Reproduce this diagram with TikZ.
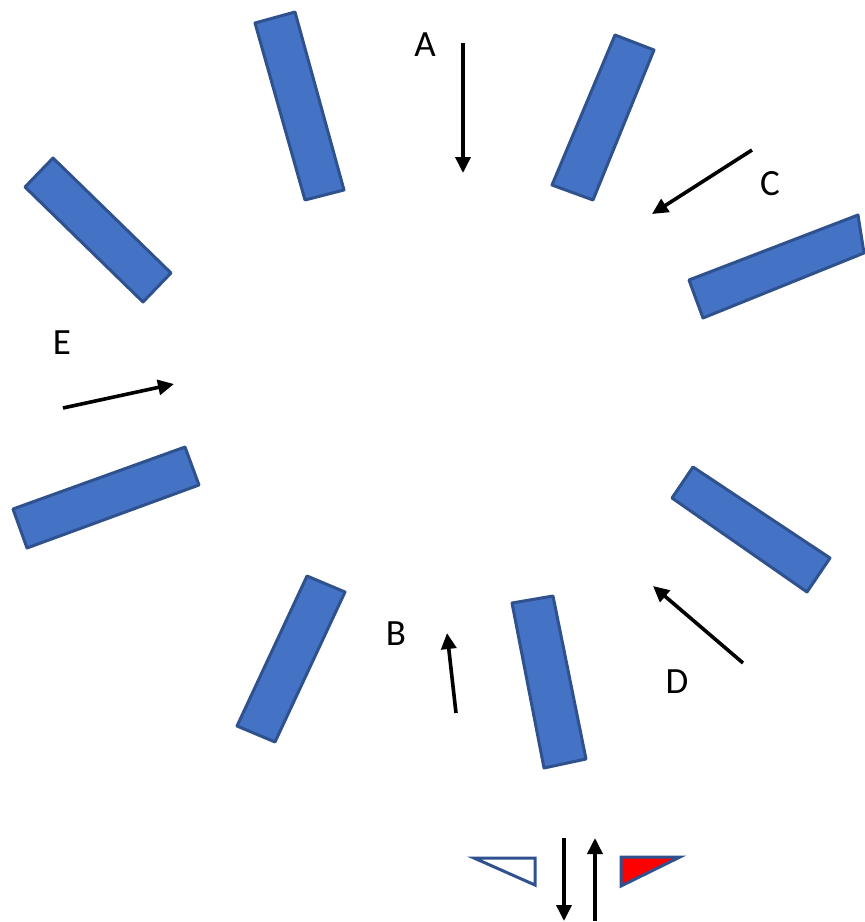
\documentclass[tikz,border=0pt]{standalone}
\usepackage{fontspec}
\setmainfont{Carlito}
\usetikzlibrary{arrows.meta}
\definecolor{barfill}{HTML}{4472C4}
\definecolor{barline}{HTML}{2F528F}
\tikzset{
  bar/.style={fill=barfill, draw=barline, line width=3pt, line join=round},
  arr/.style={line width=3.6pt, -{Triangle[length=16pt,width=15pt]}},
  lbl/.style={font=\fontsize{37}{40}\selectfont, inner sep=0pt},
  tri/.style={draw=barline, line width=3pt, line join=miter}
}
\begin{document}
\begin{tikzpicture}[x=1pt,y=-1pt]
\useasboundingbox (0,0) rectangle (865,922);
% bars
\draw[bar] (255,23) -- (295,12) -- (344,190) -- (305,200) -- cycle;
\draw[bar] (25,187) -- (53,158) -- (171,273) -- (143,302) -- cycle;
\draw[bar] (615,35) -- (654,50) -- (593,200) -- (552,185) -- cycle;
\draw[bar] (689,280) -- (858,215) -- (864,253) -- (703,318) -- cycle;
\draw[bar] (13,509) -- (185,447) -- (199,485) -- (27,548) -- cycle;
\draw[bar] (307,576) -- (345,592) -- (275,742) -- (237,726) -- cycle;
\draw[bar] (512,603) -- (553,596) -- (586,759) -- (544,768) -- cycle;
\draw[bar] (693,467) -- (830,558) -- (807,592) -- (672,498) -- cycle;
% arrows
\coordinate (a1) at (463,43); \coordinate (a2) at (463,173);
\coordinate (c1) at (752,150); \coordinate (c2) at (652,214);
\coordinate (e1) at (63,408); \coordinate (e2) at (174,384);
\coordinate (b1) at (456,713); \coordinate (b2) at (447,633);
\coordinate (d1) at (743,663); \coordinate (d2) at (653,586);
\draw[arr] (a1) -- (a2);
\draw[arr] (c1) -- (c2);
\draw[arr] (e1) -- (e2);
\draw[arr] (b1) -- (b2);
\draw[arr] (d1) -- (d2);
% labels
\node[lbl] (lA) at (425,45) {A};
\node[lbl] (lC) at (770,184) {C};
\node[lbl] (lE) at (62,343) {E};
\node[lbl] (lB) at (396,634) {B};
\node[lbl] (lD) at (677,682) {D};
% bottom symbols
\coordinate (dn1) at (564,838); \coordinate (dn2) at (564,921);
\coordinate (up1) at (595,921); \coordinate (up2) at (595,838);
\draw[arr] (dn1) -- (dn2);
\draw[arr] (up1) -- (up2);
\draw[tri, fill=white] (474,858) -- (535,858) -- (535,885) -- cycle;
\draw[tri, fill=red] (621,857) -- (680,857) -- (621,886) -- cycle;
\end{tikzpicture}
\end{document}
